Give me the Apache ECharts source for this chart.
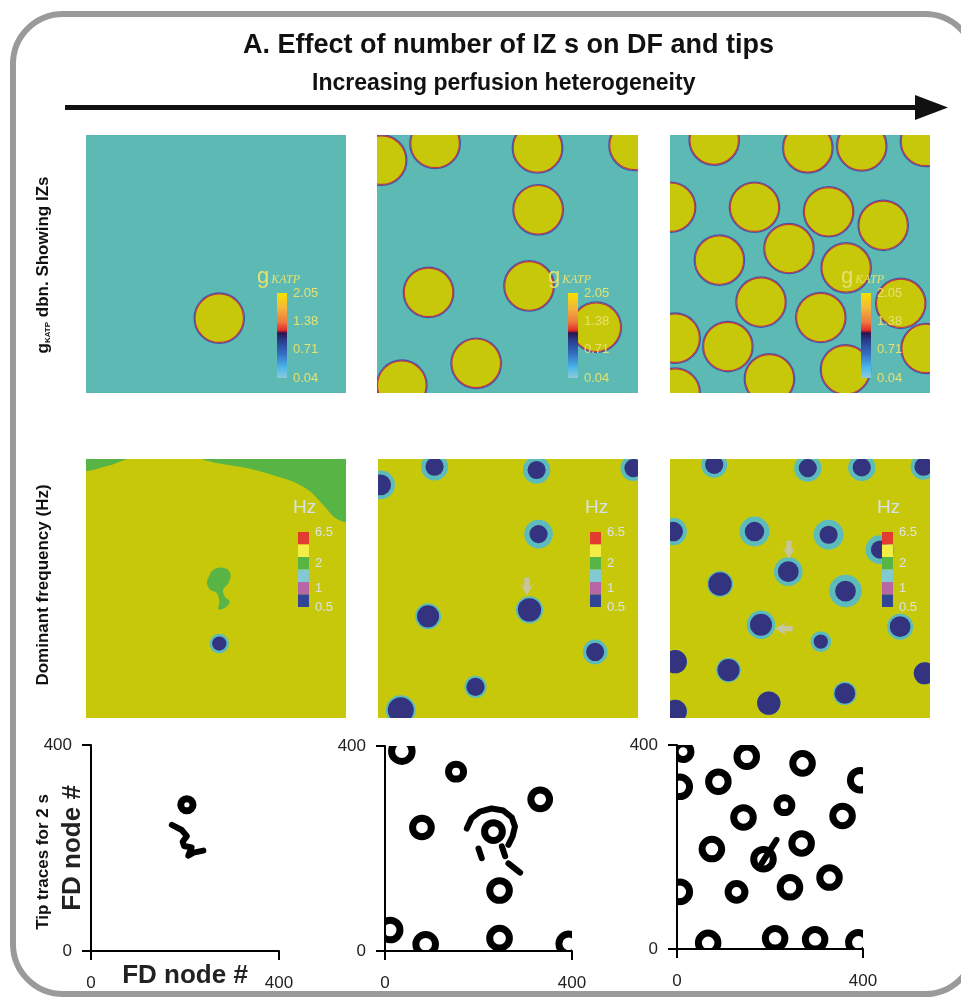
<!DOCTYPE html>
<html><head><meta charset="utf-8">
<script src="https://cdn.jsdelivr.net/npm/echarts@6/dist/echarts.min.js"></script>
<style>html,body{margin:0;padding:0;background:#fff}#c{width:961px;height:997px}</style>
</head><body><div id="c"></div>
<script>
// ---------------- DATA (FD node coordinates, 0..400) ----------------
const axisRange = [0, 400];
// Top row: ischemic zones [x, y, radius]
const izLow  = [[205,116,37.5]];
const izMid  = [[7,361,37.5],[89,387,37.5],[246,380,37.5],[394,384,37.5],[247,284,37.5],[79,156,37.5],[233,166,37.5],[336,102,37.5],[152,46,37.5],[38,12,37.5]];
const izHigh = [[68,392,37.5],[212,380,37.5],[295,383,37.5],[393,390,37.5],[1,288,37.5],[130,288,37.5],[244,281,37.5],[328,260,37.5],[76,206,37.5],[183,224,37.5],[271,194,37.5],[140,141,37.5],[232,117,37.5],[355,139,37.5],[394,69,37.5],[8,85,37.5],[89,72,37.5],[153,22,37.5],[270,36,37.5],[8,0,37.5]];
// Middle row: low-DF spots [x, y, core radius, halo radius]
const dfLow  = [[205,115,11,15]];
const dfMid  = [[4,360,16,22],[87,388,14,21],[244,383,14,21],[393,386,14,20],[247,284,14,22],[77,157,17,20],[233,167,18,21],[334,102,14,19],[150,48,14,17],[35,12,20,23]];
const dfHigh = [[68,391,14,20],[212,386,14,21],[295,387,14,21],[390,388,14,20],[5,288,15,21],[130,288,15,23],[244,283,14,23],[323,260,14,22],[77,207,18,20],[182,226,16,22],[270,196,16,25],[140,144,17,22],[232,118,11,16],[354,141,16,20],[392,69,17,17],[8,87,18,18],[90,74,17,19],[152,23,18,18],[269,38,16,18],[8,10,18,18]];
// 2 Hz regions in the low-heterogeneity DF map (boundary points)
const dfGreenTopLeft  = [[0,400],[63,400],[42,392],[11,383],[0,381]];
const dfGreenTopRight = [[180,400],[206,393],[247,386],[288,375],[319,365],[345,350],[365,329],[381,311],[396,303],[400,303],[400,400]];
const dfGreenBlob = [[188,216],[196,229],[211,232],[222,224],[219,208],[211,198],[214,187],[221,180],[216,172],[204,168],[205,180],[201,193],[191,198],[186,208]];
// Arrows marking phase singularities [x, y]
const arrowsDownMid  = [[229,203]];
const arrowsDownHigh = [[183,260]];
const arrowsLeftHigh = [[175,138]];
// Bottom row: tip trace loops [x, y, radius]
const tipLow  = [[204,284,13]];
const tipMid  = [[36,390,22],[152,350,16],[332,296,20],[79,241,20],[232,233,19],[245,118,21],[11,41,21],[87,13,21],[245,25,21],[393,14,21]];
const tipHigh = [[13,387,17],[150,377,21],[270,364,21],[394,331,21],[6,318,21],[89,328,21],[231,282,16],[143,258,21],[356,261,21],[75,196,21],[268,207,21],[186,176,21],[328,140,21],[6,112,21],[128,112,18],[243,121,21],[67,12,21],[211,21,21],[297,19,21],[390,13,21]];
// Meandering tip paths
const tipPathsLow = [
  [[172,245],[193,235],[204,223],[195,212],[198,204],[214,201],[207,185],[218,191],[239,195]]
];
const tipPathsMid = [
  [[175,239],[185,259],[203,272],[228,278],[253,274],[271,261],[278,243],[273,224],[264,207]],
  [[200,200],[207,181]],
  [[250,204],[257,185]],
  [[264,171],[289,153]]
];
const tipPathsHigh = [
  [[182,168],[214,214]]
];
// Colour bar tick labels
const gkTickLabels = ['2.05','1.38','0.71','0.04'];
const hzTickLabels = [['6.5',0],['2',2.5],['1',4.5],['0.5',6]];

// ---------------- STYLE / LAYOUT ----------------
const FONT = 'Liberation Sans, Arial, Helvetica, sans-serif';
const TEAL_BG = '#5cb9b3', IZ_FILL = '#c8c80b', DF_BG = '#c8c80b';
const NAVY = '#333380', HALO = '#5cbcbc', GREEN = '#58b444';
const hzColors = ['#e23b30','#f2ee44','#58b444','#82c9d2','#b866a6','#2f4694'];
const gkStops = [[0,'#f7e000'],[0.18,'#f3b53a'],[0.34,'#ee7a3e'],[0.44,'#e02a2a'],[0.47,'#2a1550'],[0.55,'#283a88'],[0.72,'#3470c4'],[0.88,'#4cb8ea'],[1,'#8ccad8']];
const grids = [
  {left:86, top:135, width:260, height:258},
  {left:377,top:135, width:261, height:258},
  {left:670,top:135, width:260, height:258},
  {left:86, top:459, width:260, height:259},
  {left:378,top:459, width:260, height:259},
  {left:670,top:459, width:260, height:259},
  {left:91, top:745, width:188, height:206},
  {left:385,top:746, width:187, height:205},
  {left:677,top:745, width:186, height:204}
];

const chart = echarts.init(document.getElementById('c'), null, {renderer:'canvas'});

const gridOpts = grids.map((g,i)=>Object.assign({}, g, {
  show: i < 6, backgroundColor: i < 3 ? TEAL_BG : DF_BG, borderWidth: 0,
  containLabel:false, outerBoundsMode:'none'
}));
const xAxes = [], yAxes = [];
grids.forEach((g,i)=>{
  const visible = i >= 6;
  const common = {gridIndex:i, type:'value', min:axisRange[0], max:axisRange[1], interval:400,
    splitLine:{show:false}, show: visible, nameMoveOverlap:false,
    axisLine:{show:true, onZero:false, lineStyle:{color:'#000', width:2}},
    axisTick:{show:true, length:9, lineStyle:{color:'#000', width:2}},
    axisLabel:{fontSize:17, color:'#222', fontFamily:FONT}};
  xAxes.push(Object.assign({}, common, {axisLabel:Object.assign({}, common.axisLabel, {margin:24})}));
  yAxes.push(Object.assign({}, common, {axisLabel:Object.assign({}, common.axisLabel, {margin:19})}));
});
Object.assign(xAxes[6], {name:'FD node #', nameLocation:'middle', nameGap:12,
  nameTextStyle:{fontSize:26, fontWeight:'bold', color:'#222', fontFamily:FONT}});
Object.assign(yAxes[6], {name:'FD node #', nameLocation:'middle', nameGap:5,
  nameTextStyle:{fontSize:26, fontWeight:'bold', color:'#222', fontFamily:FONT}});

const series = [];
function izSeries(data, gi){
  series.push({type:'custom', coordinateSystem:'cartesian2d', xAxisIndex:gi, yAxisIndex:gi, clip:true, data,
    renderItem(params, api){
      const c = api.coord([api.value(0), api.value(1)]);
      const r = api.size([api.value(2), 0])[0];
      return {type:'group', children:[
        {type:'circle', shape:{cx:c[0], cy:c[1], r:r+0.8}, style:{fill:'none', stroke:'#4156b0', lineWidth:1.3}},
        {type:'circle', shape:{cx:c[0], cy:c[1], r:r-0.2}, style:{fill:IZ_FILL, stroke:'#c8383a', lineWidth:1.1}}
      ]};
    }});
}
function polySeries(points, gi, color, smooth){
  series.push({type:'custom', coordinateSystem:'cartesian2d', xAxisIndex:gi, yAxisIndex:gi, clip:true, data:points,
    renderItem(params, api){
      if (params.dataIndex !== 0) return null;
      return {type:'polygon', shape:{points: points.map(p=>api.coord(p)), smooth: smooth}, style:{fill:color}};
    }});
}
function dfSeries(data, gi){
  series.push({type:'custom', coordinateSystem:'cartesian2d', xAxisIndex:gi, yAxisIndex:gi, clip:true, data,
    renderItem(params, api){
      const c = api.coord([api.value(0), api.value(1)]);
      const rc = api.size([api.value(2), 0])[0];
      const rh = api.size([api.value(3), 0])[0];
      return {type:'group', children:[
        {type:'circle', shape:{cx:c[0], cy:c[1], r:rh}, style:{fill:HALO}},
        {type:'circle', shape:{cx:c[0], cy:c[1], r:rc}, style:{fill:NAVY}}
      ]};
    }});
}
function arrowSeries(data, gi, rot){
  series.push({type:'scatter', xAxisIndex:gi, yAxisIndex:gi, data, z:5,
    symbol:'path://M3,0 L7,0 L7,7 L10,5 L5,14 L0,5 L3,7 Z', symbolSize:[13,18], symbolRotate:rot,
    itemStyle:{color:'#c4c4c4'}, silent:true});
}
function tipSeries(data, gi){
  series.push({type:'custom', coordinateSystem:'cartesian2d', xAxisIndex:gi, yAxisIndex:gi, clip:true, data,
    renderItem(params, api){
      const c = api.coord([api.value(0), api.value(1)]);
      const r = api.size([api.value(2), 0])[0];
      return {type:'circle', shape:{cx:c[0], cy:c[1], r:r}, style:{fill:'none', stroke:'#000', lineWidth:7}};
    }});
}
function pathSeries(paths, gi){
  paths.forEach(p=>series.push({type:'line', xAxisIndex:gi, yAxisIndex:gi, data:p, showSymbol:false, symbol:'none',
    lineStyle:{color:'#000', width:6, cap:'round', join:'round'}, silent:true}));
}

izSeries(izLow,0); izSeries(izMid,1); izSeries(izHigh,2);
polySeries(dfGreenTopLeft,3,GREEN,0); polySeries(dfGreenTopRight,3,GREEN,0.3); polySeries(dfGreenBlob,3,GREEN,0.4);
dfSeries(dfLow,3); dfSeries(dfMid,4); dfSeries(dfHigh,5);
arrowSeries(arrowsDownMid,4,0); arrowSeries(arrowsDownHigh,5,0); arrowSeries(arrowsLeftHigh,5,-90);
tipSeries(tipLow,6); tipSeries(tipMid,7); tipSeries(tipHigh,8);
pathSeries(tipPathsLow,6); pathSeries(tipPathsMid,7); pathSeries(tipPathsHigh,8);

// ---------------- GRAPHICS: frame, titles, colour bars ----------------
const graphic = [];
graphic.push({type:'rect', z:100, shape:{x:13, y:14, width:962, height:980, r:50}, style:{fill:'none', stroke:'#9a9a9a', lineWidth:6}});
graphic.push({type:'text', z:100, x:243, y:45.5, style:{text:'A. Effect of number of IZ s on DF and tips', font:'bold 27px '+FONT, fill:'#111', align:'left', verticalAlign:'middle'}});
graphic.push({type:'text', z:100, x:312, y:84, style:{text:'Increasing perfusion heterogeneity', font:'bold 23px '+FONT, fill:'#111', align:'left', verticalAlign:'middle'}});
graphic.push({type:'line', z:100, shape:{x1:65, y1:107.5, x2:922, y2:107.5}, style:{stroke:'#111', lineWidth:5}});
graphic.push({type:'polygon', z:100, shape:{points:[[915,95],[948,107.5],[915,120]]}, style:{fill:'#111'}});
graphic.push({type:'text', z:100, x:43, y:265, rotation:Math.PI/2, style:{
  text:'{a|g}{s|KATP}{a| dbn. Showing IZs}', align:'center', verticalAlign:'middle',
  rich:{a:{fontSize:17, fontWeight:'bold', fontFamily:FONT, fill:'#111'}, s:{fontSize:8, fontWeight:'bold', fontFamily:FONT, fill:'#111', verticalAlign:'bottom', padding:[6,0,0,0]}}}});
graphic.push({type:'text', z:100, x:43, y:585, rotation:Math.PI/2, style:{text:'Dominant frequency (Hz)', font:'bold 17px '+FONT, fill:'#111', align:'center', verticalAlign:'middle'}});
graphic.push({type:'text', z:100, x:43, y:862, rotation:Math.PI/2, style:{text:'Tip traces for 2 s', font:'bold 17px '+FONT, fill:'#111', align:'center', verticalAlign:'middle'}});

for (let i=0;i<3;i++){
  const g = grids[i];
  graphic.push({type:'rect', z:100, shape:{x:g.left+191, y:g.top+158, width:10, height:85},
    style:{fill:{type:'linear', x:0, y:0, x2:0, y2:1, colorStops:gkStops.map(s=>({offset:s[0], color:s[1]}))}}});
  gkTickLabels.forEach((t,k)=>graphic.push({type:'text', z:100, x:g.left+207, y:g.top+158+k*85/3,
    style:{text:t, font:'13px '+FONT, fill:'#e6e070', align:'left', verticalAlign:'middle'}}));
  graphic.push({type:'text', z:100, x:g.left+171, y:g.top+142, style:{text:'{g|g}{k|KATP}', align:'left', verticalAlign:'middle',
    rich:{g:{fontSize:22, fontFamily:FONT, fill:'#e6e070'}, k:{fontSize:12, fontStyle:'italic', fontFamily:'Liberation Serif, serif', fill:'#e6e070', padding:[5,0,0,2]}}}});
}
for (let i=3;i<6;i++){
  const g = grids[i];
  hzColors.forEach((c,k)=>graphic.push({type:'rect', z:100, shape:{x:g.left+212, y:g.top+73+k*12.5, width:11, height:12.5}, style:{fill:c}}));
  hzTickLabels.forEach(t=>graphic.push({type:'text', z:100, x:g.left+229, y:g.top+73+t[1]*12.5,
    style:{text:t[0], font:'13px '+FONT, fill:'#dde2ea', align:'left', verticalAlign:'middle'}}));
  graphic.push({type:'text', z:100, x:g.left+207, y:g.top+49, style:{text:'Hz', font:'19px '+FONT, fill:'#d6e2ea', align:'left', verticalAlign:'middle'}});
}

chart.setOption({animation:false, grid:gridOpts, xAxis:xAxes, yAxis:yAxes, series, graphic});
</script></body></html>
